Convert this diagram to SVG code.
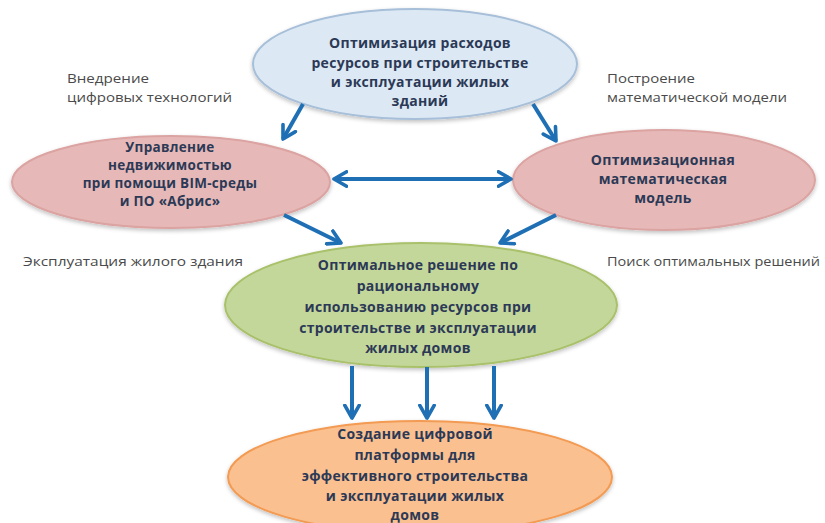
<svg xmlns="http://www.w3.org/2000/svg" width="825" height="523" viewBox="0 0 825 523">
<defs>
<marker id="ah" viewBox="0 0 10 10" refX="8" refY="5" markerWidth="4.5" markerHeight="4.5" orient="auto-start-reverse" markerUnits="strokeWidth">
<path d="M1,1 L8,5 L1,9" fill="none" stroke="#1f6fb5" stroke-width="2" stroke-linecap="round" stroke-linejoin="round"/>
</marker>
<filter id="sh" x="-10%" y="-10%" width="120%" height="130%">
<feGaussianBlur in="SourceAlpha" stdDeviation="2"/>
<feOffset dx="0" dy="2"/>
<feComponentTransfer><feFuncA type="linear" slope="0.25"/></feComponentTransfer>
<feMerge><feMergeNode/><feMergeNode in="SourceGraphic"/></feMerge>
</filter>
</defs>
<style>
.n{font-family:"Open Sans","Liberation Sans",sans-serif;font-weight:bold;font-size:14px;letter-spacing:0.3px;fill:#2c3956;text-anchor:middle}
.s{font-size:13.5px}
.l{font-family:"Open Sans","Liberation Sans",sans-serif;font-size:12.5px;fill:#4a4a4a}
.c{fill:none;stroke:#1f6fb5;stroke-width:4;marker-end:url(#ah)}
</style>
<rect width="825" height="523" fill="#ffffff"/>
<g id="labels">
<text class="l" x="67" y="83" textLength="82" lengthAdjust="spacingAndGlyphs">Внедрение</text>
<text class="l" x="67" y="102" textLength="165" lengthAdjust="spacingAndGlyphs">цифровых технологий</text>
<text class="l" x="607" y="83" textLength="88" lengthAdjust="spacingAndGlyphs">Построение</text>
<text class="l" x="607" y="102" textLength="180" lengthAdjust="spacingAndGlyphs">математической модели</text>
<text class="l" x="23" y="266" textLength="220" lengthAdjust="spacingAndGlyphs">Эксплуатация жилого здания</text>
<text class="l" x="607" y="266" textLength="213" lengthAdjust="spacingAndGlyphs">Поиск оптимальных решений</text>
</g>
<g id="n1">
<ellipse cx="415" cy="64" rx="162" ry="55" fill="#dce9f5" stroke="#a7bfd8" stroke-width="2" filter="url(#sh)"/>
<text class="n" x="420" y="48">Оптимизация расходов</text>
<text class="n" x="420" y="68">ресурсов при  строительстве</text>
<text class="n" x="420" y="87">и эксплуатации жилых</text>
<text class="n" x="420" y="106">зданий</text>
</g>
<g id="n2">
<ellipse cx="171" cy="182" rx="159" ry="46" fill="#e6b9b8" stroke="#dba3a1" stroke-width="2" filter="url(#sh)"/>
<text class="n s" x="170" y="152">Управление</text>
<text class="n s" x="170" y="170">недвижимостью</text>
<text class="n s" x="170" y="188">при помощи BIM-среды</text>
<text class="n s" x="170" y="206">и ПО «Абрис»</text>
</g>
<g id="n3">
<ellipse cx="664" cy="180" rx="151" ry="50" fill="#e6b9b8" stroke="#dba3a1" stroke-width="2" filter="url(#sh)"/>
<text class="n" x="663" y="165">Оптимизационная</text>
<text class="n" x="663" y="184">математическая</text>
<text class="n" x="663" y="203">модель</text>
</g>
<g id="n4">
<ellipse cx="421" cy="305" rx="196" ry="62" fill="#c4d79b" stroke="#a9c16a" stroke-width="2" filter="url(#sh)"/>
<text class="n" x="418" y="270">Оптимальное решение по</text>
<text class="n" x="418" y="291">рациональному</text>
<text class="n" x="418" y="312">использованию ресурсов при</text>
<text class="n" x="418" y="333">строительстве и эксплуатации</text>
<text class="n" x="418" y="353">жилых домов</text>
</g>
<g id="n5">
<ellipse cx="420" cy="477" rx="192" ry="56" fill="#fac090" stroke="#f39a52" stroke-width="2" filter="url(#sh)"/>
<text class="n" x="415" y="439">Создание цифровой</text>
<text class="n" x="415" y="460">платформы для</text>
<text class="n" x="415" y="481">эффективного строительства</text>
<text class="n" x="415" y="501">и эксплуатации  жилых</text>
<text class="n" x="415" y="520">домов</text>
</g>
<g id="connectors">
<line class="c" x1="303" y1="104" x2="283" y2="139"/>
<line class="c" x1="533" y1="104" x2="556" y2="141"/>
<line class="c" x1="334" y1="179" x2="511" y2="179" marker-start="url(#ah)"/>
<line class="c" x1="284" y1="215" x2="341" y2="243"/>
<line class="c" x1="556" y1="215" x2="500" y2="243"/>
<line class="c" x1="352" y1="366" x2="352" y2="418"/>
<line class="c" x1="427" y1="367" x2="427" y2="418"/>
<line class="c" x1="494" y1="366" x2="494" y2="418"/>
</g>
</svg>
